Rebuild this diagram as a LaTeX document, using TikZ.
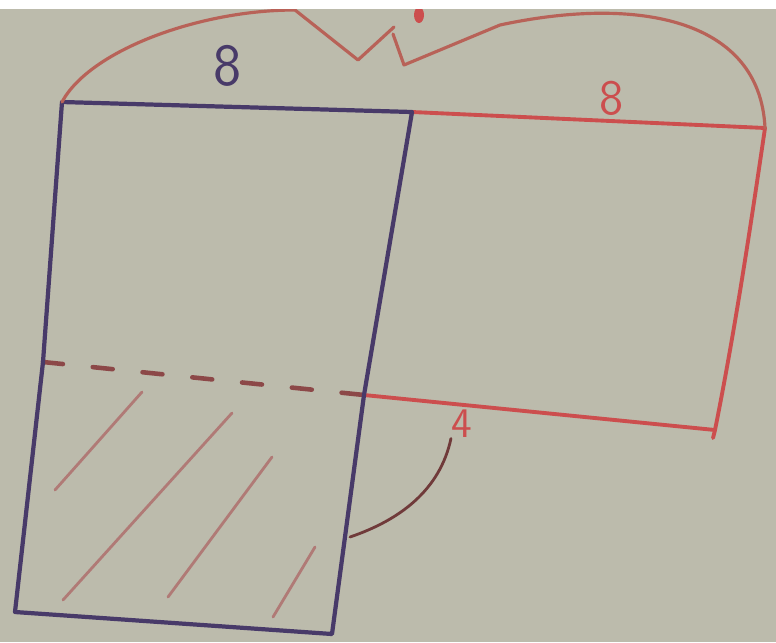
\documentclass[tikz,border=0pt]{standalone}
\usepackage{tikz}
\usetikzlibrary{arrows.meta}
\usepackage{xcolor}
\definecolor{board}{RGB}{188,187,172}
\definecolor{bluepen}{RGB}{72,58,105}
\definecolor{redpen}{RGB}{204,78,78}
\definecolor{bracepen}{RGB}{184,98,88}
\definecolor{hatchpen}{RGB}{176,122,118}
\definecolor{dashpen}{RGB}{140,72,72}

\begin{document}
\begin{tikzpicture}[x=0.01cm,y=-0.01cm,line cap=round,line join=round,
  blueline/.style={bluepen,line width=1.2pt},
  redline/.style={redpen,line width=1.1pt},
  braceline/.style={bracepen,line width=0.9pt},
  hatchline/.style={hatchpen,line width=0.8pt},
  lbl/.style={font=\sffamily,inner sep=0pt}]
\useasboundingbox (0,0) rectangle (776,642);
\fill[board] (0,0) rectangle (776,642);
% corners of the two squares
\coordinate (tl) at (62,102);
\coordinate (tm) at (412,112);
\coordinate (tr) at (765,128);
\coordinate (ml) at (43,362);
\coordinate (mm) at (364,395);
\coordinate (mr) at (715,430);
\coordinate (bl) at (15,612);
\coordinate (bm) at (332,634);
\coordinate (tick) at (350,537);
% hatching of the lower part
\draw[hatchline] (142,392) -- (55,490);
\draw[hatchline] (232,413) -- (63,600);
\draw[hatchline] (272,457) -- (168,597);
\draw[hatchline] (315,547) -- (273,617);
% dashed cut
\draw[dashpen,line width=1.3pt,dash pattern=on 0.2cm off 0.3cm] (ml) -- (mm);
% red square
\draw[redline] (tm) -- (tr) .. controls (750,230) and (735,330) .. (mr) -- (mm);
\draw[redline] (mr) -- (713,438);
% blue square
\draw[blueline] (tl) -- (tm) -- (mm) -- (bm) -- (bl) -- (ml) -- cycle;
% brace over both sides
\draw[braceline] (tl) .. controls (90,50) and (200,10) .. (295,10)
  -- (358,60) -- (394,27);
\draw[braceline] (393,34) -- (404,65) -- (500,25)
  .. controls (640,-5) and (760,20) .. (tr);
\fill[redpen] (419,15) ellipse (5 and 8);
% labels
\node[lbl,bluepen,font=\sffamily\fontsize{17}{17}\selectfont] (eightl) at (228,66) {8};
\node[lbl,redpen,font=\sffamily\fontsize{14}{14}\selectfont] (eightr) at (612,98) {8};
\node[lbl,redpen,font=\sffamily\fontsize{12}{12}\selectfont] (four) at (462,424) {4};
\draw[dashpen!80!black,line width=0.8pt] (tick) .. controls (400,520) and (440,490) .. (four.south west);
\fill[white] (0,0) rectangle (776,9);
\end{tikzpicture}
\end{document}
